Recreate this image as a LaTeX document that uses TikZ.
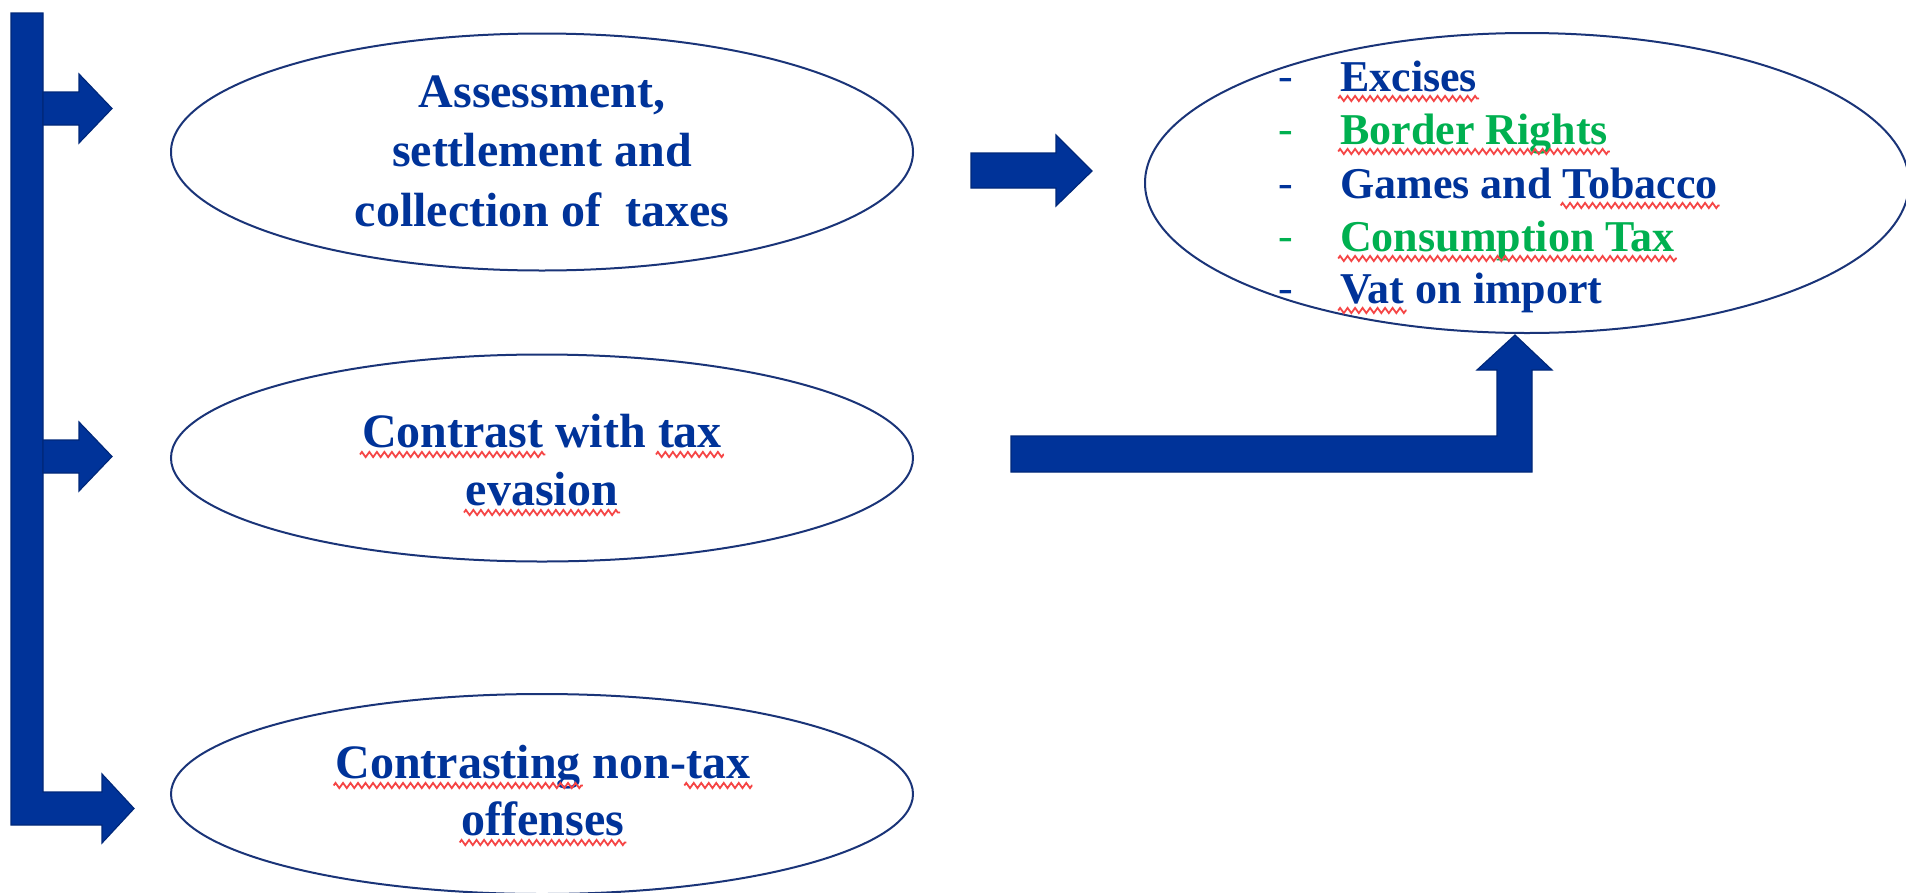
\documentclass[tikz,border=0pt]{standalone}
\usepackage{fontspec}
\setmainfont{Liberation Serif}
\usetikzlibrary{shapes.geometric,decorations.pathmorphing}

\definecolor{navy}{HTML}{003399}
\definecolor{navyedge}{HTML}{00287A}
\definecolor{rimcol}{HTML}{1A3478}
\definecolor{txtblue}{HTML}{003399}
\definecolor{txtgreen}{HTML}{00B050}
\definecolor{squigred}{HTML}{F54545}

\tikzset{
  blockarrow/.style={fill=navy, draw=navyedge, line width=1.2pt, line join=miter},
  oval/.style={ellipse, draw=rimcol, line width=2pt, inner sep=0pt},
  bigtxt/.style={font=\fontsize{48}{59}\selectfont\bfseries, text=txtblue, inner sep=0pt, anchor=base},
  listtxt/.style={font=\fontsize{44}{53}\selectfont\bfseries, inner sep=0pt, anchor=base west},
  dashtxt/.style={font=\fontsize{44}{53}\selectfont\mdseries, inner sep=0pt, anchor=base west},
  squig/.style={draw=squigred, line width=1.8pt, decorate,
    decoration={zigzag, amplitude=2.6pt, segment length=7.5pt}},
}

% word with a wavy red underline
\newcommand\sq[1]{\tikz[baseline=(sqw.base)]{%
  \node[inner sep=0pt, outer sep=0pt, anchor=base] (sqw) {#1};%
  \draw[squig, overlay] ([yshift=-7.5pt,xshift=-2pt]sqw.base west) -- ([yshift=-7.5pt,xshift=2pt]sqw.base east);}}

\begin{document}
\begin{tikzpicture}[x=1pt,y=-1pt]
\useasboundingbox (0,0) rectangle (1906,892);

% ovals
\node[oval, minimum width=742pt, minimum height=237pt] (e1) at (542,152) {};
\node[oval, minimum width=742pt, minimum height=207pt] (e2) at (542,458) {};
\node[oval, minimum width=742pt, minimum height=200pt] (e3) at (542,794) {};
\node[oval, minimum width=764pt, minimum height=300pt] (e4) at (1527,183) {};

% spine with the bottom branch
\filldraw[blockarrow] (11,13) -- (43,13) -- (43,792) -- (102,792) -- (102,774)
  -- (134,808.5) -- (102,843) -- (102,825) -- (11,825) -- cycle;
% upper branches
\filldraw[blockarrow] (43,92) -- (79,92) -- (79,74) -- (112,108.5) -- (79,143)
  -- (79,125) -- (43,125) -- cycle;
\filldraw[blockarrow] (43,440) -- (79,440) -- (79,422) -- (112,456.5) -- (79,491)
  -- (79,473) -- (43,473) -- cycle;
% arrow towards the list
\filldraw[blockarrow] (971,153) -- (1056,153) -- (1056,135) -- (1092,171) -- (1056,206)
  -- (1056,188) -- (971,188) -- cycle;
% bent arrow up into the list
\filldraw[blockarrow] (1011,436) -- (1497,436) -- (1497,370) -- (1477,370) -- (1515,335)
  -- (1552,370) -- (1532,370) -- (1532,472) -- (1011,472) -- cycle;

% texts of the ovals
\node[bigtxt] (t1a) at (542,107) {Assessment,};
\node[bigtxt] (t1b) at (542,166) {settlement and};
\node[bigtxt] (t1c) at (542,226) {collection of\ \ taxes};

\node[bigtxt] (t2a) at (542,447) {\sq{Contrast} with \sq{tax}};
\node[bigtxt] (t2b) at (542,505) {\sq{evasion}};

\node[bigtxt] (t3a) at (543,778) {\sq{Contrasting} non-\sq{tax}};
\node[bigtxt] (t3b) at (543,835) {\sq{offenses}};

% list
\node[dashtxt, text=txtblue]  (d1) at (1278,90)  {-};
\node[dashtxt, text=txtgreen] (d2) at (1278,143) {-};
\node[dashtxt, text=txtblue]  (d3) at (1278,197) {-};
\node[dashtxt, text=txtgreen] (d4) at (1278,250) {-};
\node[dashtxt, text=txtblue]  (d5) at (1278,302) {-};

\node[listtxt, text=txtblue]  (i1) at (1340,91)  {\sq{Excises}};
\node[listtxt, text=txtgreen] (i2) at (1340,144) {\sq{Border Rights}};
\node[listtxt, text=txtblue]  (i3) at (1340,198) {Games and \sq{Tobacco}};
\node[listtxt, text=txtgreen] (i4) at (1340,251) {\sq{Consumption Tax}};
\node[listtxt, text=txtblue]  (i5) at (1340,303) {\sq{Vat} on import};
\end{tikzpicture}
\end{document}
